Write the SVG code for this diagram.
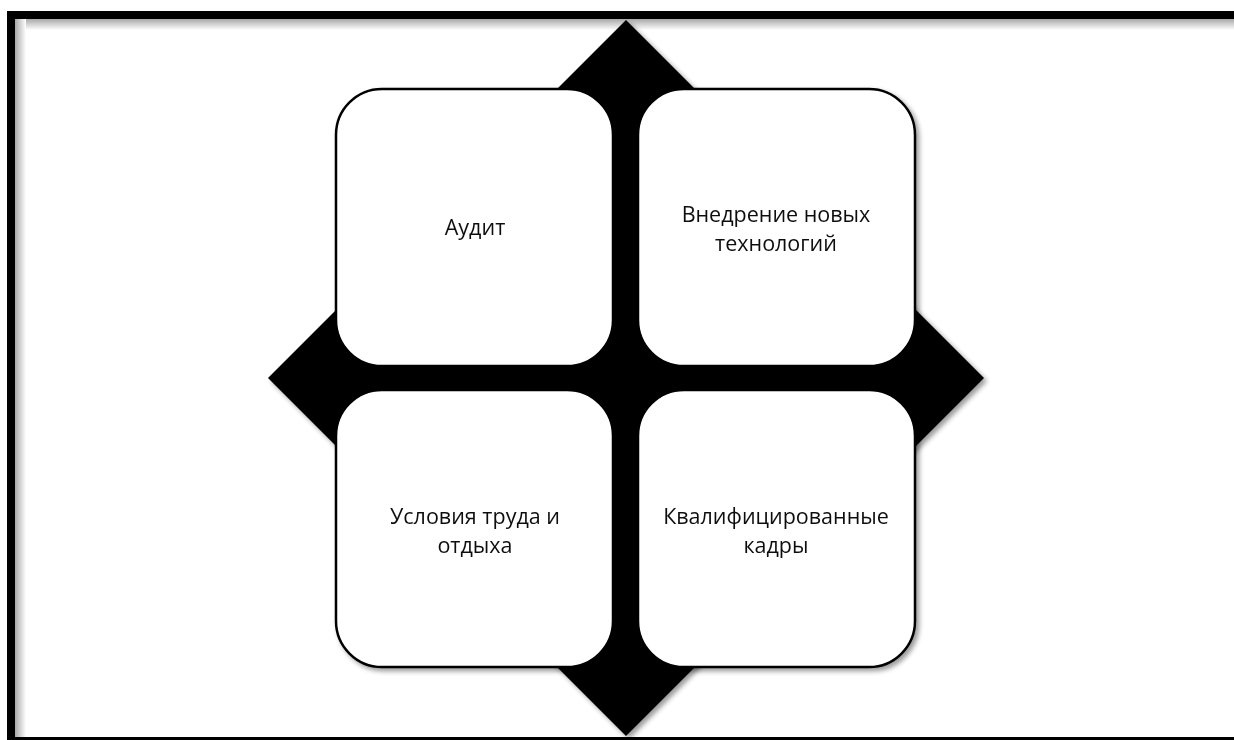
<svg xmlns="http://www.w3.org/2000/svg" width="1234" height="740" viewBox="0 0 1234 740">
  <defs>
    <linearGradient id="shTop" x1="0" y1="0" x2="0" y2="1">
      <stop offset="0" stop-color="#a8a8a8"/>
      <stop offset="1" stop-color="#ffffff"/>
    </linearGradient>
    <linearGradient id="shLeft" x1="0" y1="0" x2="1" y2="0">
      <stop offset="0" stop-color="#a8a8a8"/>
      <stop offset="1" stop-color="#ffffff"/>
    </linearGradient>
    <filter id="shadow" x="-10%" y="-10%" width="120%" height="120%">
      <feGaussianBlur in="SourceAlpha" stdDeviation="2.5"/>
      <feOffset dx="3" dy="3" result="b"/>
      <feComponentTransfer><feFuncA type="linear" slope="0.4"/></feComponentTransfer>
      <feMerge><feMergeNode/><feMergeNode in="SourceGraphic"/></feMerge>
    </filter>
    <style>
      .box { fill: #ffffff; stroke: #000000; stroke-width: 2.5; }
      .lbl { font-family: "Open Sans", "Liberation Sans", sans-serif; font-size: 21.5px; fill: #111111; text-anchor: middle; }
    </style>
  </defs>
  <rect width="1234" height="740" fill="#ffffff"/>
  <g id="frame">
    <rect x="15" y="19" width="1219" height="11" fill="url(#shTop)"/>
    <rect x="15" y="19" width="11" height="718" fill="url(#shLeft)"/>
    <rect x="11" y="15" width="1300" height="726" fill="none" stroke="#000000" stroke-width="8"/>
  </g>
  <g id="diamond" filter="url(#shadow)">
    <polygon points="626,20 984,378 626,736 268,378" fill="#000000"/>
  </g>
  <g id="node-audit" filter="url(#shadow)">
    <rect class="box" x="336" y="89" width="277" height="277" rx="46" ry="46"/>
    <text class="lbl" x="475" y="235">Аудит</text>
  </g>
  <g id="node-tech" filter="url(#shadow)">
    <rect class="box" x="638" y="89" width="277" height="277" rx="46" ry="46"/>
    <text class="lbl" x="776" y="222">Внедрение новых</text>
    <text class="lbl" x="776" y="251">технологий</text>
  </g>
  <g id="node-conditions" filter="url(#shadow)">
    <rect class="box" x="336" y="390" width="277" height="277" rx="46" ry="46"/>
    <text class="lbl" x="475" y="524">Условия труда и</text>
    <text class="lbl" x="475" y="553">отдыха</text>
  </g>
  <g id="node-staff" filter="url(#shadow)">
    <rect class="box" x="638" y="390" width="277" height="277" rx="46" ry="46"/>
    <text class="lbl" x="776" y="524">Квалифицированные</text>
    <text class="lbl" x="776" y="553">кадры</text>
  </g>
  <g id="connectors"/>
</svg>
